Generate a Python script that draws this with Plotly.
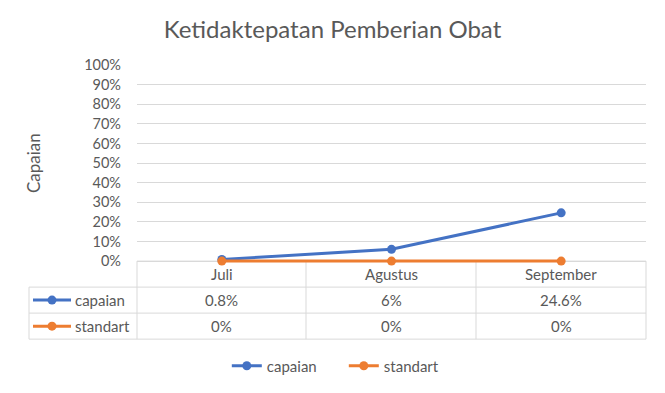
import plotly.graph_objects as go

categories = ["Juli", "Agustus", "September"]
capaian = [0.8, 6, 24.6]
standart = [0, 0, 0]
series_names = ["capaian", "standart"]
y_ticks = [0, 10, 20, 30, 40, 50, 60, 70, 80, 90, 100]

W, H = 665, 393
L, R, T, Z = 137, 646, 65, 261   # Z = pixel of 0%
YMIN = -2.5
UNIT = (Z - T) / 100.0
B = Z - YMIN * UNIT               # plot bottom pixel
PW, PH = R - L, B - T
FONT = "Lato"
TXT = "#595959"
GRID = "#d9d9d9"
BLUE = "#4472C4"
ORANGE = "#ED7D31"
FS = 15

def px(x):
    return (x - L) / PW

def py(y):
    return (B - y) / PH

fig = go.Figure()
colors = [BLUE, ORANGE]
for name, vals, c in zip(series_names, [capaian, standart], colors):
    fig.add_trace(go.Scatter(
        x=categories, y=vals, name=name, mode="lines+markers",
        line=dict(color=c, width=3), marker=dict(color=c, size=9),
        cliponaxis=False,
    ))

shapes = []
row_y = [261, 287, 313, 339]
for i, yy in enumerate(row_y):
    x0 = L if i == 0 else 29
    shapes.append(dict(type="line", xref="paper", yref="paper", x0=px(x0), x1=px(R),
                       y0=py(yy), y1=py(yy), line=dict(color=GRID, width=1), layer="below"))
col_x = [L, 306, 476, R]
for xx in col_x:
    shapes.append(dict(type="line", xref="paper", yref="paper", x0=px(xx), x1=px(xx),
                       y0=py(261), y1=py(339), line=dict(color=GRID, width=1), layer="below"))
shapes.append(dict(type="line", xref="paper", yref="paper", x0=px(29), x1=px(29),
                   y0=py(287), y1=py(339), line=dict(color=GRID, width=1), layer="below"))

annotations = []
for c in categories:
    annotations.append(dict(x=c, xref="x", y=py(274), yref="paper", text=c, showarrow=False,
                            xanchor="center", yanchor="middle",
                            font=dict(family=FONT, size=FS, color=TXT)))
for r, (name, vals, col) in enumerate(zip(series_names, [capaian, standart], colors)):
    yc = 300 + 26 * r
    shapes.append(dict(type="line", xref="paper", yref="paper", x0=px(33), x1=px(71),
                       y0=py(yc), y1=py(yc), line=dict(color=col, width=3)))
    shapes.append(dict(type="circle", xref="paper", yref="paper", x0=px(47.5), x1=px(56.5),
                       y0=py(yc - 4.5), y1=py(yc + 4.5), fillcolor=col, line=dict(color=col, width=0)))
    annotations.append(dict(x=px(73), xref="paper", y=py(yc), yref="paper", text=name,
                            showarrow=False, xanchor="left", yanchor="middle",
                            font=dict(family=FONT, size=FS, color=TXT)))
    for c, v in zip(categories, vals):
        annotations.append(dict(x=c, xref="x", y=py(yc), yref="paper", text=f"{v:g}%",
                                showarrow=False, xanchor="center", yanchor="middle",
                                font=dict(family=FONT, size=FS, color=TXT)))

annotations.append(dict(x=px(33), xref="paper", y=py(163), yref="paper",
                        text="Capaian", showarrow=False, textangle=-90,
                        xanchor="center", yanchor="middle",
                        font=dict(family=FONT, size=17, color=TXT)))

fig.update_layout(
    width=W, height=H,
    margin=dict(l=L, r=W - R, t=T, b=H - B),
    paper_bgcolor="white", plot_bgcolor="white",
    title=dict(text="Ketidaktepatan Pemberian Obat", x=0.5, xref="container", xanchor="center",
               y=1 - 30 / H, yref="container", yanchor="middle",
               font=dict(family=FONT, size=24, color=TXT)),
    font=dict(family=FONT, color=TXT),
    xaxis=dict(showticklabels=False, showgrid=False, zeroline=False, showline=False,
               range=[-0.5, 2.5], fixedrange=True),
    yaxis=dict(range=[YMIN, 100], tickvals=y_ticks, ticktext=[f"{t}%" for t in y_ticks],
               showgrid=True, gridcolor=GRID, gridwidth=1, zeroline=False, showline=False,
               tickfont=dict(family=FONT, size=14.5, color=TXT), ticks="",
               ticklabelstandoff=15, fixedrange=True),
    shapes=shapes,
    annotations=annotations,
    showlegend=True,
    legend=dict(orientation="h", x=0.517, xref="container", xanchor="center",
                y=1 - 366 / H, yref="container", yanchor="middle",
                entrywidth=72,
                font=dict(family=FONT, size=FS, color=TXT)),
)

fig.write_html("out.html", config={"displayModeBar": False},
               post_script="document.body.style.margin='0px';")
